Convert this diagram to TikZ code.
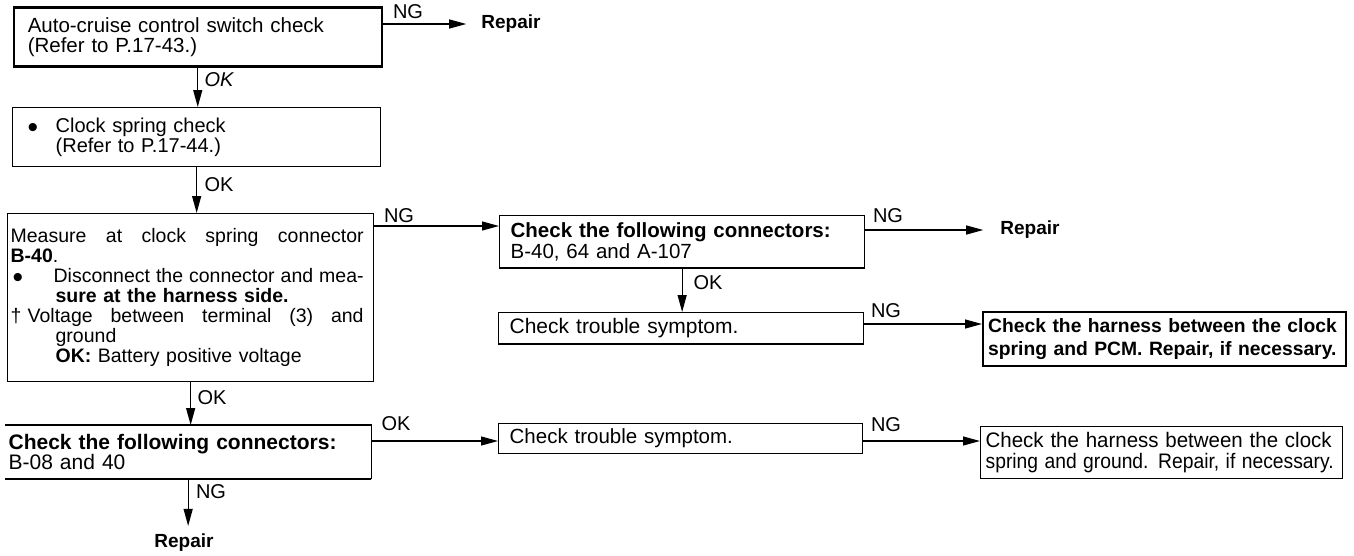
\documentclass[tikz,border=0pt]{standalone}
\usepackage{fontspec}
\setmainfont{Liberation Sans}
\usetikzlibrary{arrows.meta}
\newcommand{\fsz}[1]{\fontsize{#1}{20}\selectfont}
\newcommand{\bigdot}{\raisebox{-5pt}[0pt][0pt]{\fontsize{30}{20}\selectfont\textbullet}}
\newcommand{\fitline}[2]{\resizebox{#1}{\height}{#2}}
\begin{document}
\begin{tikzpicture}[x=1pt,y=-1pt,
  box/.style={draw, line width=1.3pt, anchor=north west, align=left, inner ysep=0pt},
  lbl/.style={inner sep=0pt, font=\fsz{20}},
  rep/.style={inner sep=0pt, font=\fsz{19}\bfseries},
  arr/.style={line width=1.2pt, -{Triangle[length=17pt,width=9pt]}},
  thick edge/.style={line width=2.6pt},
]
\useasboundingbox (0,0) rectangle (1354,555);

% boxes
\node[box, line width=1.5pt, minimum width=368pt, minimum height=58pt, inner xsep=14pt, text width=340pt, font=\fsz{20.5}] (box1) at (13,7)
  {Auto-cruise control switch check\\(Refer to P.17-43.)};
\draw[thick edge] (box1.north west) -- (box1.north east);
\draw[thick edge] (box1.south west) -- (box1.south east);
\node[box, minimum width=368pt, minimum height=59pt, inner xsep=3pt, text width=362pt, font=\fsz{20}] (box2) at (12,107)
  {\makebox[40pt][l]{\hspace*{12pt}\bigdot}Clock spring check\\\hspace*{40pt}(Refer to P.17-44.)};
\node[box, minimum width=366pt, minimum height=168pt, inner xsep=3pt, text width=360pt, font=\fsz{19.5}] (box3) at (7,213)
  {\hbox to 353pt{Measure\hfill at\hfill clock\hfill spring\hfill connector}\\
   \textbf{B-40}.\\
   \makebox[43pt][l]{\hspace*{2pt}\bigdot}\hbox to 310pt{Disconnect\hfill the\hfill connector\hfill and\hfill mea-}\\
   \hspace*{45pt}\textbf{sure at the harness side.}\\
   \makebox[17pt][l]{†}\hbox to 336pt{Voltage\hfill between\hfill terminal\hfill (3)\hfill and}\\
   \hspace*{45pt}ground\\
   \hspace*{45pt}\textbf{OK:} Battery positive voltage};
\node[box, minimum width=365pt, minimum height=52pt, inner xsep=11pt, text width=343pt, font=\fontsize{20.5}{21}\selectfont] (box4) at (499,215)
  {\textbf{Check the following connectors:}\\B-40, 64 and A-107};
\draw[line width=2.2pt] (box4.south west) -- (box4.south east);
\node[box, minimum width=365pt, minimum height=31pt, inner xsep=11pt, text width=343pt, font=\fsz{21}] (box5) at (498,312)
  {Check trouble symptom.};
\draw[line width=2.2pt] (box5.south west) -- (box5.south east);
\node[box, line width=2.4pt, minimum width=363pt, minimum height=54pt, inner xsep=5pt, text width=353pt, font=\fontsize{19.3}{23}\selectfont\bfseries] (box6) at (982,311)
  {Check the harness between the clock\\spring and PCM. Repair, if necessary.};
\node[box, draw=none, minimum width=365pt, minimum height=53pt, inner xsep=3pt, text width=359pt, font=\fsz{21}] (box7) at (5,425)
  {\textbf{Check the following connectors:}\\B-08 and 40};
\draw[line width=1.3pt] (box7.north west) -- (box7.north east) -- (box7.south east);
\draw[line width=2pt] (box7.south east) -- (box7.south west);
\node[box, minimum width=364pt, minimum height=30pt, inner xsep=11pt, text width=342pt, font=\fsz{20.5}] (box8) at (498,423)
  {Check trouble symptom.};
\node[box, minimum width=362pt, minimum height=52pt, inner xsep=5pt, text width=352pt, font=\fontsize{21}{21}\selectfont] (box9) at (980,426)
  {\fitline{346pt}{Check the harness between the clock}\\\fitline{348pt}{spring and ground. Repair, if necessary.}};

% labels
\node[lbl] (ng1) at (408,12) {NG};
\node[lbl, font=\fsz{20}\itshape] (ok1) at (219,80) {OK};
\node[lbl] (ok2) at (219,185) {OK};
\node[lbl] (ng2) at (399,216) {NG};
\node[lbl] (ng3) at (888,216) {NG};
\node[lbl] (ok3) at (708,283) {OK};
\node[lbl] (ng4) at (886,311) {NG};
\node[lbl] (ok4) at (212,398) {OK};
\node[lbl] (ok5) at (396,424) {OK};
\node[lbl] (ng5) at (886,425) {NG};
\node[lbl] (ng6) at (211,492) {NG};
\node[rep] (r1) at (511,24) {Repair};
\node[rep] (r2) at (1030,230) {Repair};
\node[rep] (r3) at (184,543) {Repair};

% connectors
\draw[arr] (box1.east |- r1) -- ([xshift=-15pt]r1.west);
\draw[arr] (box1.south) -- (box1.south |- box2.north);
\draw[arr] (box2.south) -- (box2.south |- box3.north);
\coordinate (c4) at ([yshift=-13pt]box3.north east);
\draw[arr] (c4) -- (c4 -| box4.west);
\draw[arr] (box4.east |- r2) -- ([xshift=-17pt]r2.west);
\draw[arr] (box4.south) -- (box4.south |- box5.north);
\coordinate (c7) at ([yshift=-12pt]box5.north east);
\draw[arr] (c7) -- (c7 -| box6.west);
\draw[arr] (box3.south) -- (box3.south |- box7.north);
\coordinate (c9) at ([yshift=-16pt]box7.north east);
\draw[arr] (c9) -- (c9 -| box8.west);
\coordinate (c10) at ([yshift=-18pt]box8.north east);
\draw[arr] (c10) -- (c10 -| box9.west);
\coordinate (r3top) at (box7.south |- r3.north);
\draw[arr] (box7.south) -- ([yshift=8pt]r3top);
\end{tikzpicture}
\end{document}
